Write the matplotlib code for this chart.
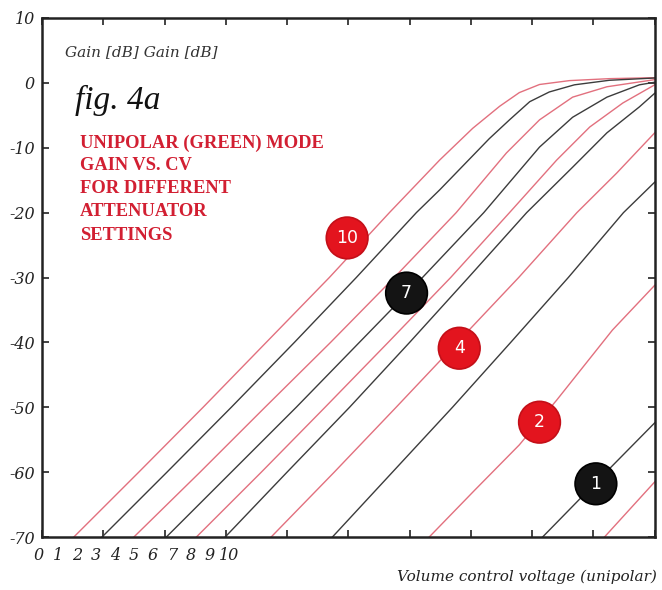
import matplotlib
matplotlib.use("Agg")
import matplotlib.pyplot as plt

# attenuator setting curves (x = CV, y = gain dB)
settings = [10, 9, 8, 7, 6, 5, 4, 3, 2, 1, 0]
curve_x = {
    10: [0.52, 1.58, 2.63, 3.66, 4.69, 5.67, 6.49, 7.03, 7.47, 7.79, 8.12, 8.61, 9.26, 10.0],
    9: [0.98, 2.04, 3.09, 4.12, 5.13, 6.11, 6.49, 7.30, 7.63, 7.96, 8.28, 8.69, 9.26, 10.0],
    8: [1.50, 2.58, 3.64, 4.71, 5.75, 6.76, 7.58, 8.12, 8.66, 9.22, 10.0],
    7: [2.03, 3.09, 4.15, 5.18, 6.21, 7.21, 8.12, 8.66, 9.22, 9.75, 10.0],
    6: [2.52, 3.58, 4.62, 5.65, 6.67, 7.63, 8.40, 8.94, 9.48, 10.0],
    5: [2.99, 4.00, 5.02, 6.00, 6.96, 7.91, 8.66, 9.22, 9.75, 10.0],
    4: [3.74, 4.77, 5.78, 6.78, 7.78, 8.73, 9.38, 10.0],
    3: [4.74, 5.72, 6.70, 7.65, 8.59, 9.49, 10.0],
    2: [6.32, 7.06, 7.79, 8.40, 9.31, 10.0],
    1: [8.17, 9.05, 10.0],
    0: [9.18, 10.0],
}
curve_y = {
    10: [-70, -60, -50, -40, -30, -20, -11.9, -7.0, -3.6, -1.5, -0.25, 0.35, 0.65, 0.8],
    9: [-70, -60, -50, -40, -30, -20, -16.5, -8.6, -5.7, -2.9, -1.4, -0.3, 0.4, 0.75],
    8: [-70, -60, -50, -40, -30, -20, -10.8, -5.7, -2.2, -0.6, 0.5],
    7: [-70, -60, -50, -40, -30, -20, -9.9, -5.3, -2.2, -0.3, 0.1],
    6: [-70, -60, -50, -40, -30, -20, -11.9, -6.8, -3.1, -0.3],
    5: [-70, -60, -50, -40, -30, -20, -13.0, -7.7, -3.7, -1.6],
    4: [-70, -60, -50, -40, -30, -20, -13.9, -7.7],
    3: [-70, -60, -50, -40, -30, -20, -15.3],
    2: [-70, -62.8, -55.8, -48.9, -38.1, -31.2],
    1: [-70, -61.5, -52.4],
    0: [-70, -61.5],
}

# numbered badges sitting on some curves
badge_labels = ["10", "7", "4", "2", "1"]
badge_x = [4.98, 5.95, 6.81, 8.12, 9.04]
badge_y = [-23.9, -32.4, -40.9, -52.3, -61.8]
badge_colors = ["#e3141e", "#141414", "#e3141e", "#e3141e", "#141414"]
badge_edges = ["#c40f18", "#000000", "#c40f18", "#c40f18", "#000000"]

x_tick_labels = ["0", "1", "2", "3", "4", "5", "6", "7", "8", "9", "10"]
y_ticks = [10, 0, -10, -20, -30, -40, -50, -60, -70]

red_line = "#e2707e"
black_line = "#3c3c3c"
axis_col = "#222222"

fig = plt.figure(figsize=(6.62, 5.90), dpi=100)
ax = fig.add_axes([0.0634, 0.0898, 0.9256, 0.8797])

for i, s in enumerate(settings):
    col = red_line if i % 2 == 0 else black_line
    ax.plot(curve_x[s], curve_y[s], color=col, lw=1.0)

ax.scatter(badge_x, badge_y, s=900, c=badge_colors, edgecolors=badge_edges,
           linewidths=1.2, zorder=5)
for lab, bx, by in zip(badge_labels, badge_x, badge_y):
    ax.text(bx, by, lab, color="white", ha="center", va="center", fontsize=12.5,
            family=["Liberation Sans Narrow", "DejaVu Sans"], zorder=6)

ax.set_xlim(0, 10)
ax.set_ylim(-70, 10)
ax.set_xticks(range(11))
ax.set_xticklabels([])
ax.set_yticks(y_ticks)
ax.set_yticklabels([str(v) for v in y_ticks], fontstyle="italic",
                   family="DejaVu Serif", fontsize=11.5, color=axis_col)
ax.tick_params(direction="in", length=5, width=1.2, color=axis_col,
               top=True, right=True, pad=5)
ax.tick_params(axis="x", labelbottom=False)
for sp in ax.spines.values():
    sp.set_linewidth(1.8)
    sp.set_color(axis_col)

# the cv labels are bunched at the left, not under the ticks
for i, lab in enumerate(x_tick_labels):
    fig.text((39 + i * 19) / 662, 1 - 555 / 590, lab, ha="center", va="center",
             fontstyle="italic", family="DejaVu Serif", fontsize=11.5, color=axis_col)

fig.text(657 / 662, 1 - 577 / 590, "Volume control voltage (unipolar)", ha="right",
         va="center", fontstyle="italic", family="DejaVu Serif", fontsize=11,
         color=axis_col)

fig.text(65 / 662, 1 - 52 / 590, "Gain [dB] Gain [dB]", ha="left", va="center",
         fontstyle="italic", family="DejaVu Serif", fontsize=11, color="#333333")
fig.text(75 / 662, 1 - 100 / 590, "fig. 4a", ha="left", va="center",
         fontstyle="italic", family="Liberation Serif", fontsize=24, color="#111111")

red_lines = ["UNIPOLAR (GREEN) MODE", "GAIN VS. CV", "FOR DIFFERENT",
             "ATTENUATOR", "SETTINGS"]
for i, t in enumerate(red_lines):
    fig.text(80 / 662, 1 - (143 + i * 23) / 590, t, ha="left", va="center",
             fontweight="bold", family="Liberation Serif", fontsize=13.3, color="#d21f32")

fig.savefig("out.png", dpi=100)
